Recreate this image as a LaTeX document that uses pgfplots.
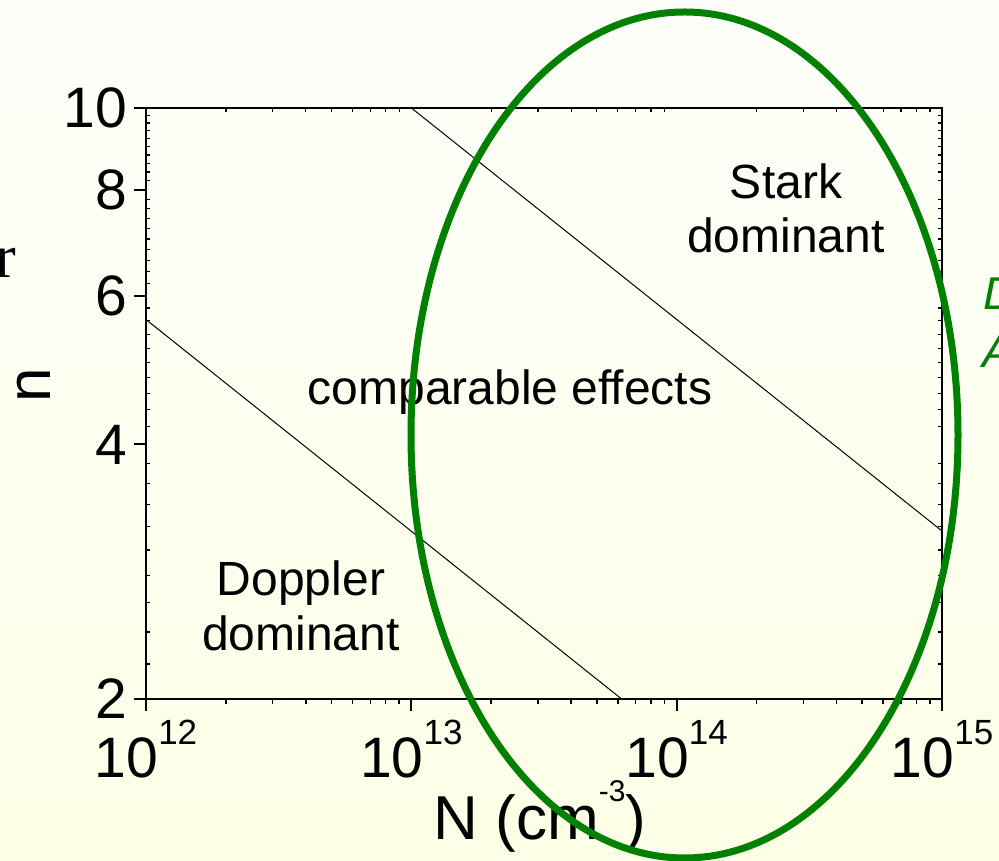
\documentclass[border=0pt]{standalone}
\usepackage{fontspec}
\setmainfont{Liberation Sans}
\newfontfamily\serifface{Liberation Serif}
\usepackage{pgfplots}
\pgfplotsset{compat=1.18}

\definecolor{slidegreen}{RGB}{0,128,0}
\definecolor{bgtop}{RGB}{254,255,250}
\definecolor{bgbottom}{RGB}{253,255,230}

\newcommand\tickfont{\fontsize{57bp}{60bp}\selectfont}
\newcommand\labfont{\fontsize{62bp}{66bp}\selectfont}
\newcommand\notefont{\fontsize{48bp}{52bp}\selectfont}
\newcommand\pw[1]{10\raisebox{33bp}{\fontsize{35bp}{35bp}\selectfont #1}}

\begin{document}
\begin{tikzpicture}[x=1bp,y=1bp]
\clip (0,0) rectangle (999,861);
\shade[top color=bgtop, bottom color=bgbottom] (0,0) rectangle (999,861);

% frame with inward minor ticks on all four sides
\begin{axis}[
  scale only axis, width=796bp, height=591bp,
  at={(146bp,162bp)}, anchor=south west,
  xmode=log, ymode=log,
  xmin=1e12, xmax=1e15, ymin=2, ymax=10,
  axis line style={line width=2bp},
  tick align=inside,
  xtick={1e12,1e13,1e14,1e15}, ytick={2,4,6,8,10},
  xticklabels={}, yticklabels={},
  major tick length=0pt,
  minor xtick={2e12,3e12,4e12,5e12,6e12,7e12,8e12,9e12,
               2e13,3e13,4e13,5e13,6e13,7e13,8e13,9e13,
               2e14,3e14,4e14,5e14,6e14,7e14,8e14,9e14},
  minor ytick={2.2,2.4,2.6,2.8,3,3.2,3.4,3.6,3.8,
               4.2,4.4,4.6,4.8,5,5.2,5.4,5.6,5.8,
               6.2,6.4,6.6,6.8,7,7.2,7.4,7.6,7.8,
               8.2,8.4,8.6,8.8,9,9.2,9.4,9.6,9.8},
  minor tick length=4bp,
  minor tick style={line width=1.2bp, black},
  xtick pos=right, ytick pos=both,
]
\addplot[draw=none] coordinates {(1e13,3)};
\end{axis}

% bottom and left axes: outward ticks, labels and the two boundary lines
\begin{axis}[
  scale only axis, width=796bp, height=591bp,
  at={(146bp,162bp)}, anchor=south west,
  xmode=log, ymode=log,
  xmin=1e12, xmax=1e15, ymin=2, ymax=10,
  axis x line*=bottom, axis y line*=left,
  axis line style={line width=2bp, -},
  tick align=outside,
  xtick={1e12,1e13,1e14,1e15},
  xticklabels={\pw{12},\pw{13},\pw{14},\pw{15}},
  ytick={2,4,6,8,10},
  yticklabels={2,4,6,8,10},
  minor xtick={2e12,3e12,4e12,5e12,6e12,7e12,8e12,9e12,
               2e13,3e13,4e13,5e13,6e13,7e13,8e13,9e13,
               2e14,3e14,4e14,5e14,6e14,7e14,8e14,9e14},
  major tick length=12bp, minor tick length=5bp,
  tick style={black},
  major tick style={line width=2bp, black},
  minor tick style={line width=1.5bp, black},
  ticklabel style={font=\tickfont},
  xticklabel style={anchor=base, inner sep=0pt, yshift=-67bp},
  yticklabel style={anchor=east, inner sep=0pt, xshift=-7bp},
]
\addplot[black, line width=1bp] coordinates {(1e12,5.62) (6.2e13,2)};
\addplot[black, line width=1bp] coordinates {(1e13,10) (1e15,3.16)};
\end{axis}

% axis titles
\node[anchor=base, font=\labfont] at (540,21)
  {N (cm\raisebox{38bp}{\fontsize{30bp}{30bp}\selectfont -3})};
\node[rotate=90, anchor=base, font=\labfont] at (50,476) {n};

% region names
\node[anchor=base, font=\notefont, inner sep=0pt] at (786,662) {Stark};
\node[anchor=base, font=\notefont, inner sep=0pt] at (786,608) {dominant};
\node[anchor=base, font=\notefont, inner sep=0pt] at (510,456) {comparable effects};
\node[anchor=base, font=\notefont, inner sep=0pt] at (301,265) {Doppler};
\node[anchor=base, font=\notefont, inner sep=0pt] at (301,210) {dominant};

% neighbouring slide text
\node[anchor=base east, inner sep=0pt, font=\labfont\serifface] at (16,583) {r};
\node[anchor=base west, inner sep=0pt, font=\fontsize{46bp}{50bp}\selectfont\itshape, text=slidegreen] at (983,551) {D};
\node[anchor=base west, inner sep=0pt, font=\fontsize{46bp}{50bp}\selectfont\itshape, text=slidegreen] at (982,493) {A};

% highlight
\draw[slidegreen, line width=7bp] (684.5,426) ellipse [x radius=273.5, y radius=423];
\end{tikzpicture}
\end{document}
